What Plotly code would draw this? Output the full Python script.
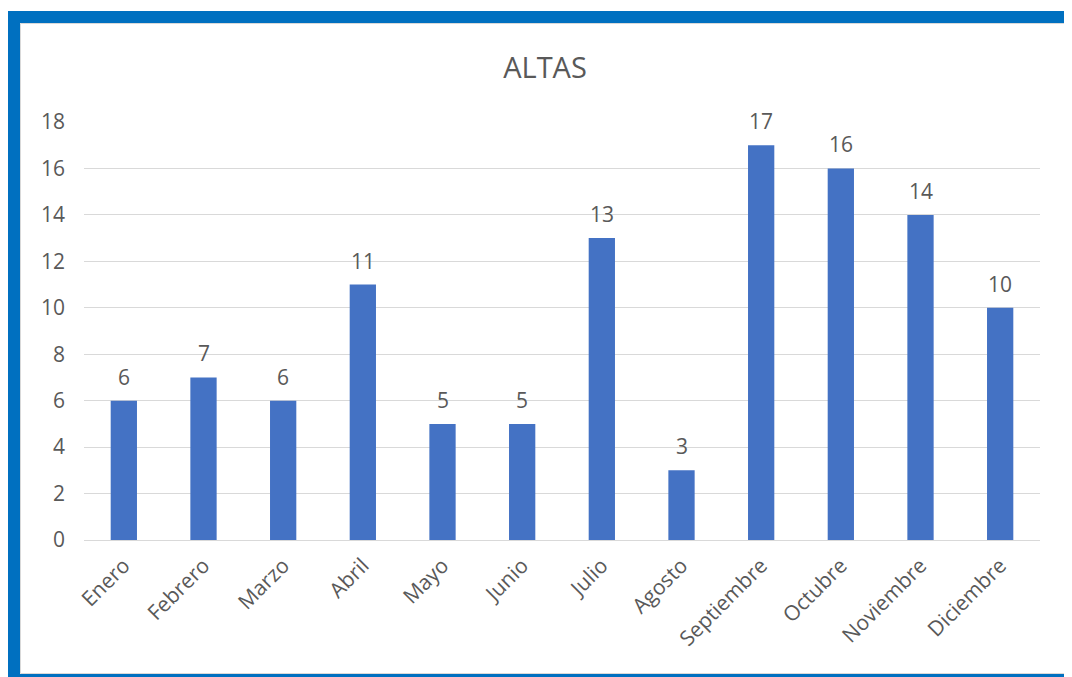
import plotly.graph_objects as go

months = ["Enero", "Febrero", "Marzo", "Abril", "Mayo", "Junio", "Julio",
          "Agosto", "Septiembre", "Octubre", "Noviembre", "Diciembre"]
altas = [6, 7, 6, 11, 5, 5, 13, 3, 17, 16, 14, 10]
y_ticks = [0, 2, 4, 6, 8, 10, 12, 14, 16, 18]

OFF = 8  # page body offset
W, H = 1072 - OFF, 677 - OFF
ML, MR, MT, MB = 84 - OFF, 32, 122 - OFF, 137
PW, PH = W - ML - MR, H - MT - MB

def px(x):
    return (x - OFF - ML) / PW

def py(y):
    return (H - MB - (y - OFF)) / PH

FONT = "'Open Sans', 'Noto Sans', sans-serif"
GREY = "#595959"

fig = go.Figure(go.Bar(
    x=months, y=altas, width=0.33,
    marker=dict(color="#4472C4", line=dict(width=0)),
    hoverinfo="x+y",
))

for m, v in zip(months, altas):
    fig.add_annotation(x=m, y=v, text=str(v), showarrow=False, yanchor="bottom",
                       yshift=8, font=dict(family=FONT, size=21, color=GREY))

blue = "#0070C0"
shapes = [
    dict(type="rect", xref="paper", yref="paper", x0=px(8), x1=px(1072), y0=py(23), y1=py(11),
         fillcolor=blue, line=dict(width=0), layer="below"),
    dict(type="rect", xref="paper", yref="paper", x0=px(8), x1=px(20), y0=py(677), y1=py(11),
         fillcolor=blue, line=dict(width=0), layer="below"),
    dict(type="rect", xref="paper", yref="paper", x0=px(1068), x1=px(1072), y0=py(677), y1=py(11),
         fillcolor=blue, line=dict(width=0), layer="below"),
    dict(type="rect", xref="paper", yref="paper", x0=px(8), x1=px(1072), y0=py(677), y1=py(674),
         fillcolor=blue, line=dict(width=0), layer="below"),
    dict(type="rect", xref="paper", yref="paper", x0=px(20.5), x1=px(1067.5), y0=py(673.5), y1=py(23.5),
         fillcolor="rgba(0,0,0,0)", line=dict(width=1, color="#D9D9D9"), layer="below"),
]

fig.update_layout(
    width=W, height=H,
    margin=dict(l=ML, r=MR, t=MT, b=MB),
    paper_bgcolor="white", plot_bgcolor="white",
    title=dict(text="ALTAS", x=(545 - OFF) / W, xanchor="center", y=1 - (68 - OFF) / H,
               yanchor="middle", font=dict(family=FONT, size=29, color=GREY)),
    showlegend=False,
    shapes=shapes,
    xaxis=dict(tickangle=-45, tickfont=dict(family=FONT, size=21, color=GREY),
               showgrid=False, showline=True, linecolor="#D9D9D9", linewidth=1,
               ticks="", ticklabelstandoff=4),
    yaxis=dict(range=[0, 18], tickvals=y_ticks, tickfont=dict(family=FONT, size=21, color=GREY),
               showgrid=True, gridcolor="#D9D9D9", gridwidth=1, zeroline=False,
               showline=False, ticks="", ticklabelstandoff=18),
)

fig.write_html("out.html")
